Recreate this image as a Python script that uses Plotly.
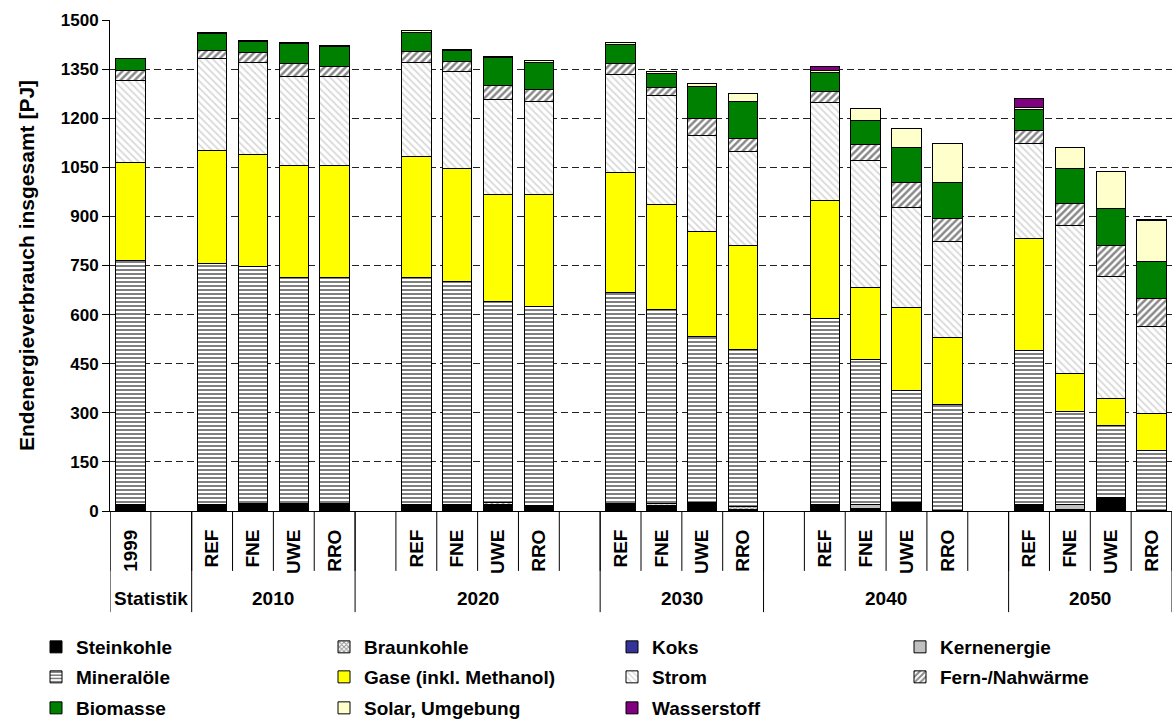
import plotly.graph_objects as go

# Bar labels (scenario level) and their year groups
bar_labels = ["1999",
              "REF", "FNE", "UWE", "RRO",
              "REF", "FNE", "UWE", "RRO",
              "REF", "FNE", "UWE", "RRO",
              "REF", "FNE", "UWE", "RRO",
              "REF", "FNE", "UWE", "RRO"]
group_labels = ["Statistik", "2010", "2020", "2030", "2040", "2050"]

# Final energy consumption by energy carrier [PJ]
steinkohle = [20, 20, 22, 22, 22, 20, 20, 19, 16, 22, 18, 25, 5, 20, 4, 25, 3, 20, 4, 42, 3]
braunkohle = [None, None, None, None, None, None, None, 6, None, None, 5, None, 8, None, 3, None, None, None, None, None, None]
koks = [None] * 21
kernenergie = [None, None, None, None, None, None, None, None, None, None, None, None, None, None, 12, None, None, None, 16, None, None]
mineraloele = [745, 737, 725, 690, 690, 694, 681, 614, 610, 645, 593, 507, 481, 567, 444, 344, 322, 471, 285, 220, 183]
gase = [300, 345, 341, 345, 345, 370, 344, 328, 341, 367, 320, 323, 316, 363, 220, 252, 206, 342, 114, 81, 112]
strom = [249, 279, 282, 269, 269, 287, 297, 289, 285, 298, 333, 293, 288, 297, 388, 305, 293, 291, 454, 373, 266]
fernwaerme = [33, 26, 30, 42, 33, 33, 31, 44, 35, 36, 26, 50, 41, 36, 48, 77, 71, 37, 67, 94, 84]
biomasse = [34, 52, 33, 60, 60, 58, 34, 86, 82, 58, 43, 98, 113, 57, 73, 107, 108, 67, 105, 113, 114]
solar = [2, 3, 3, 2, 3, 6, 4, 4, 7, 5, 4, 9, 22, 6, 37, 59, 121, 5, 67, 113, 125]
wasserstoff = [None, None, None, None, None, None, None, None, None, None, None, None, None, 12, None, None, None, 26, None, None, 3]

y_ticks = [0, 150, 300, 450, 600, 750, 900, 1050, 1200, 1350, 1500]

# Slot layout: one empty slot after each block of bars
slots_per_block = [1, 4, 4, 4, 4, 4]
x_pos = []
slot = 0
for n in slots_per_block:
    for _ in range(n):
        x_pos.append(slot)
        slot += 1
    slot += 1
n_slots = slot - 1  # 26

# Group spans in slot units (start, end) used for the lower label row
group_spans = [(-0.5, 1.5), (1.5, 5.5), (5.5, 11.5), (11.5, 15.5), (15.5, 21.5), (21.5, 25.5)]

FONT = "Liberation Sans, Arial, sans-serif"
OUT = dict(color="black", width=1)

W, H = 1174, 720
ML, MR, MT, MB = 110, 2, 20, 209
PW, PH = W - ML - MR, H - MT - MB

series = [
    ("Steinkohle", steinkohle, dict(color="black"), "legend"),
    ("Braunkohle", braunkohle, dict(color="white", pattern=dict(shape="x", fgcolor="#222", size=4, solidity=0.5)), "legend"),
    ("Koks", koks, dict(color="#333399"), "legend"),
    ("Kernenergie", kernenergie, dict(color="#C0C0C0"), "legend"),
    ("Mineralöle", mineraloele, dict(color="white", pattern=dict(shape="-", fgcolor="#000", size=4, solidity=0.5)), "legend2"),
    ("Gase (inkl. Methanol)", gase, dict(color="#FFFF00"), "legend2"),
    ("Strom", strom, dict(color="white", pattern=dict(shape="\\", fgcolor="#b4b4b4", size=5, solidity=0.35)), "legend2"),
    ("Fern-/Nahwärme", fernwaerme, dict(color="white", pattern=dict(shape="/", fgcolor="#111", size=5, solidity=0.5)), "legend2"),
    ("Biomasse", biomasse, dict(color="#008000"), "legend3"),
    ("Solar, Umgebung", solar, dict(color="#FFFFCC"), "legend3"),
    ("Wasserstoff", wasserstoff, dict(color="#800080"), "legend3"),
]

fig = go.Figure()
for name, vals, mk, lg in series:
    mk = dict(mk)
    mk["line"] = OUT
    fig.add_trace(go.Bar(
        x=x_pos, y=vals, name=f"<b>{name}</b>", marker=mk, width=0.72,
        legend=lg, showlegend=True, hoverinfo="skip",
    ))

shapes = []
# short dividers between every slot
for k in range(n_slots + 1):
    b = k - 0.5
    shapes.append(dict(type="line", xref="x", yref="paper", x0=b, x1=b,
                       y0=0, y1=-0.122, line=dict(color="black", width=1)))
# long dividers between year groups
bounds = sorted({s for span in group_spans for s in span})
for b in bounds:
    shapes.append(dict(type="line", xref="x", yref="paper", x0=b, x1=b,
                       y0=0, y1=-0.206, line=dict(color="black", width=1)))

annotations = []
for (a, b), lbl in zip(group_spans, group_labels):
    annotations.append(dict(x=(a + b) / 2, y=-0.178, xref="x", yref="paper",
                            text=f"<b>{lbl}</b>", showarrow=False,
                            font=dict(family=FONT, size=19, color="black"),
                            xanchor="center", yanchor="middle"))


def legend_row(py):
    # one legend row, positioned in pixels below the plot area
    return dict(orientation="h", xref="paper", yref="paper",
                x=(36 - ML) / PW, xanchor="left",
                y=(H - MB - py) / PH, yanchor="middle",
                entrywidth=243, entrywidthmode="pixels",
                font=dict(family=FONT, size=19, color="black"),
                bgcolor="rgba(0,0,0,0)", traceorder="normal")


fig.update_layout(
    width=W, height=H,
    margin=dict(l=ML, r=MR, t=MT, b=MB, autoexpand=False),
    paper_bgcolor="white", plot_bgcolor="white",
    barmode="stack", bargap=0.28,
    font=dict(family=FONT, size=18, color="black"),
    xaxis=dict(
        range=[-0.5, n_slots - 0.5], tickmode="array",
        tickvals=x_pos, ticktext=[f"<b>{t}</b>" for t in bar_labels],
        tickangle=-90, ticks="", showgrid=False, zeroline=False,
        showline=True, linecolor="black", linewidth=1,
        tickfont=dict(family=FONT, size=19, color="black"),
        ticklabelstandoff=10,
    ),
    yaxis=dict(
        range=[0, 1500], tickmode="array", tickvals=y_ticks,
        ticktext=[f"<b>{v}</b>" for v in y_ticks],
        ticks="outside", ticklen=7, tickcolor="black",
        showgrid=True, gridcolor="#222", gridwidth=1, griddash="7px,4px",
        zeroline=False, showline=True, linecolor="black", linewidth=1,
        tickfont=dict(family=FONT, size=17, color="black"),
        title=dict(text="<b>Endenergieverbrauch insgesamt [PJ]</b>",
                   font=dict(family=FONT, size=21, color="black"), standoff=20),
    ),
    legend=legend_row(647),
    legend2=legend_row(677),
    legend3=legend_row(708),
    shapes=shapes, annotations=annotations,
)

fig.write_html("out.html")
